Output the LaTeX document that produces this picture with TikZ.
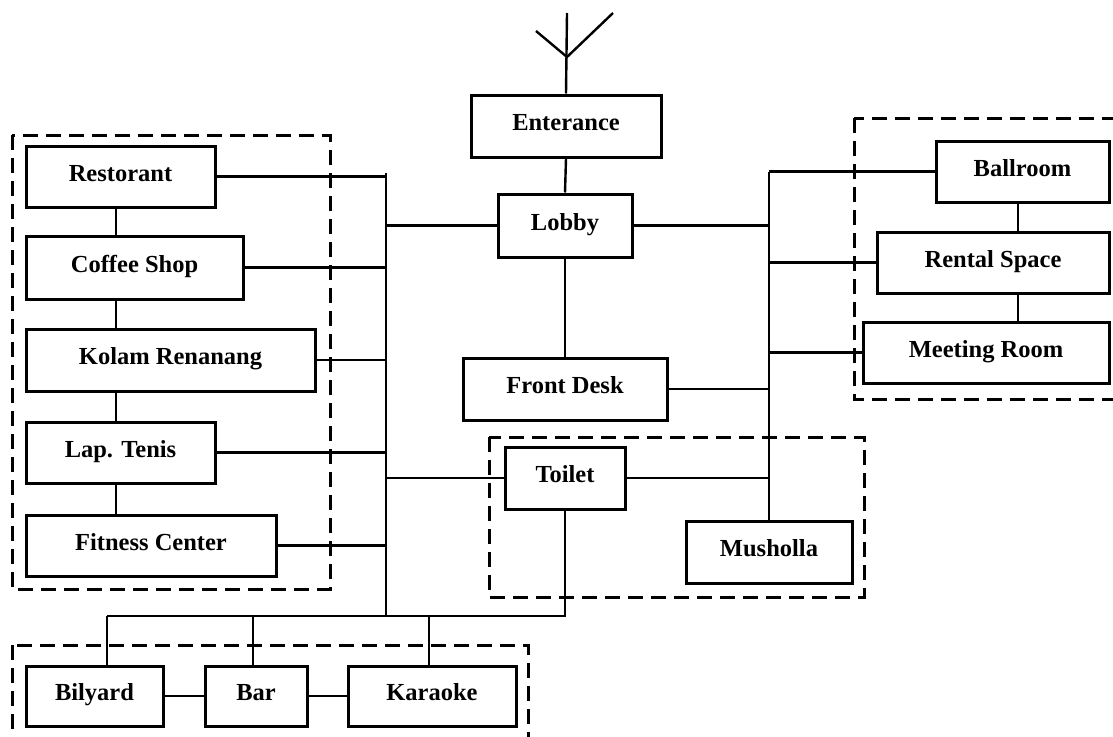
\documentclass[tikz,border=0pt]{standalone}
\usepackage{fontspec}
\setmainfont{Liberation Serif}
\begin{document}
\begin{tikzpicture}[x=1pt,y=-1pt,
  room/.style={draw, line width=3pt, rectangle, inner sep=0pt,
    text height=16pt, text depth=7pt,
    font=\bfseries\fontsize{24.5}{28}\selectfont},
  link/.style={line width=2.4pt},
  trunk/.style={line width=2.8pt},
  group/.style={line width=3pt, dash pattern=on 15pt off 8pt}]
\useasboundingbox (0,0) rectangle (1113,736);
\clip (0,0) rectangle (1113,736);

% rooms
\node[room, minimum width=190, minimum height=62] (ent)    at (566,126)   {Enterance};
\node[room, minimum width=134, minimum height=63] (lobby)  at (565,225.5) {Lobby};
\node[room, minimum width=204, minimum height=62] (fd)     at (565,389)   {Front Desk};
\node[room, minimum width=120, minimum height=62] (toilet) at (565,478)   {Toilet};
\node[room, minimum width=166, minimum height=62] (mush)   at (769,552)   {Musholla};
\node[room, minimum width=173, minimum height=61] (ball)   at (1022.5,171.5) {Ballroom};
\node[room, minimum width=232, minimum height=61] (rent)   at (993,262.5) {Rental Space};
\node[room, minimum width=246, minimum height=61] (meet)   at (986,352.5) {Meeting Room};
\node[room, minimum width=189, minimum height=61] (rest)   at (120.5,176.5) {Restorant};
\node[room, minimum width=217, minimum height=63] (coffee) at (134.5,267.5) {Coffee Shop};
\node[room, minimum width=289, minimum height=62] (kolam)  at (170.5,360)  {Kolam Renanang};
\node[room, minimum width=189, minimum height=61] (lap)    at (120.5,452.5) {Lap. Tenis};
\node[room, minimum width=250, minimum height=61] (fit)    at (151,545.5)  {Fitness Center};
\node[room, minimum width=137, minimum height=60] (bily)   at (94.5,696)   {Bilyard};
\node[room, minimum width=102, minimum height=60] (bar)    at (256,696)    {Bar};
\node[room, minimum width=168, minimum height=60] (kara)   at (432,696)    {Karaoke};

% junction points
\coordinate (ltop) at (386,173);
\coordinate (lbot) at (386,616);
\coordinate (rtop) at (769,172);
\coordinate (lch)  at (116,0);
\coordinate (rch)  at (1018,0);
\coordinate (busL) at (107,616);
\coordinate (busB) at (253,616);
\coordinate (busK) at (429,616);
\coordinate (antJ) at (567,57);
\coordinate (antT) at (567,13);
\coordinate (antL) at (536,31);
\coordinate (antR) at (613,13);

% entrance symbol
\draw[link] (ent.north) -- (antT);
\draw[link] (antL) -- (antJ) -- (antR);

% central spine
\draw[link] (ent.south) -- (lobby.north);
\draw[link] (lobby.south) -- (fd.north);

% left trunk and its branches
\draw[trunk] (ltop) -- (lbot);
\draw[link] (rest.east)   -- (rest.east -| ltop);
\draw[link] (coffee.east) -- (coffee.east -| ltop);
\draw[link] (kolam.east)  -- (kolam.east -| ltop);
\draw[link] (lap.east)    -- (lap.east -| ltop);
\draw[link] (fit.east)    -- (fit.east -| ltop);
\draw[link] (lobby.west)  -- (lobby.west -| ltop);
\draw[link] (toilet.west) -- (toilet.west -| ltop);

% left column chain
\draw[trunk] (rest.south -| lch)  -- (coffee.north -| lch);
\draw[trunk] (coffee.south -| lch) -- (kolam.north -| lch);
\draw[trunk] (kolam.south -| lch) -- (lap.north -| lch);
\draw[trunk] (lap.south -| lch)   -- (fit.north -| lch);

% right trunk and its branches
\draw[trunk] (rtop) -- (mush.north);
\draw[link] (ball.west)   -- (ball.west -| rtop);
\draw[link] (rent.west)   -- (rent.west -| rtop);
\draw[link] (meet.west)   -- (meet.west -| rtop);
\draw[link] (lobby.east)  -- (lobby.east -| rtop);
\draw[link] (fd.east)     -- (fd.east -| rtop);
\draw[link] (toilet.east) -- (toilet.east -| rtop);

% right column chain
\draw[trunk] (ball.south -| rch) -- (rent.north -| rch);
\draw[trunk] (rent.south -| rch) -- (meet.north -| rch);

% lower bus
\draw[trunk] (toilet.south) |- (busL);
\draw[trunk] (busL) -- (bily.north -| busL);
\draw[trunk] (busB) -- (bar.north -| busB);
\draw[trunk] (busK) -- (kara.north -| busK);
\draw[link] (bily.east) -- (bar.west);
\draw[link] (bar.east)  -- (kara.west);

% dashed groupings
\draw[group] (12,135) rectangle (330,589);
\draw[group] (854,118) rectangle (1130,399);
\draw[group] (489,437) rectangle (864,597);
\draw[group] (12,645) rectangle (528,760);
\end{tikzpicture}
\end{document}
